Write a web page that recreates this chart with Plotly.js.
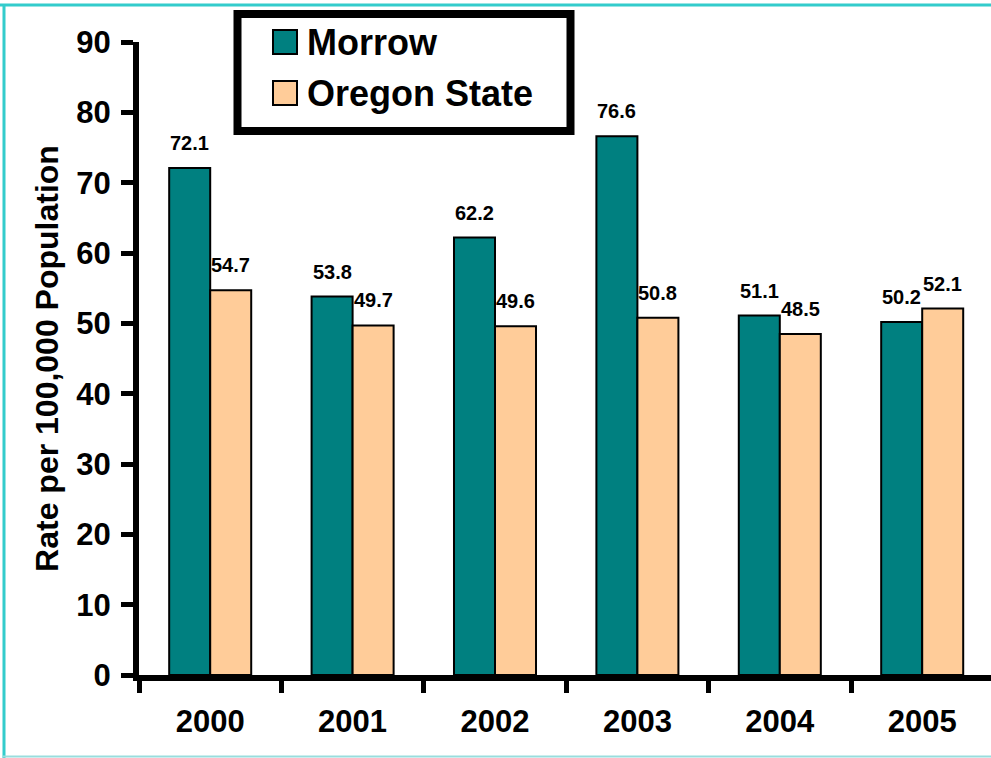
<!DOCTYPE html>
<html>
<head>
<meta charset="utf-8">
<script src="https://cdn.plot.ly/plotly-3.0.1.min.js"></script>
<style>
  html, body { margin: 0; padding: 0; background: #ffffff; }
  #chart { width: 991px; height: 758px; }
</style>
</head>
<body>
<div id="chart"></div>
<script>
// ---- data ----
const years = ['2000', '2001', '2002', '2003', '2004', '2005'];
const seriesNames = ['Morrow', 'Oregon State'];
const morrow = [72.1, 53.8, 62.2, 76.6, 51.1, 50.2];
const oregon = [54.7, 49.7, 49.6, 50.8, 48.5, 52.1];
const yTickVals = [0, 10, 20, 30, 40, 50, 60, 70, 80, 90];
const yTitle = 'Rate per 100,000 Population';

// ---- style ----
const W = 991, H = 758;
const M = { l: 139, r: 0, t: 42, b: 83 };
const FONT = 'Liberation Sans, Arial, Helvetica, sans-serif';
const colors = ['#008080', '#FFCC99'];
const bargap = 0.424;
const plotW = W - M.l - M.r, plotH = H - M.t - M.b;
const px = x => (x - M.l) / plotW;          // pixel -> paper x
const py = y => (H - M.b - y) / plotH;      // pixel -> paper y

const seriesVals = [morrow, oregon];

const traces = seriesVals.map((vals, i) => ({
  type: 'bar',
  name: seriesNames[i],
  x: years,
  y: vals,
  marker: { color: colors[i], line: { color: '#000000', width: 2 } },
  hoverinfo: 'x+y+name',
  showlegend: false
}));

// data labels above bars
const barOffset = (1 - bargap) / 4;
const annotations = [];
seriesVals.forEach((vals, i) => {
  vals.forEach((v, j) => {
    annotations.push({
      xref: 'x', yref: 'y',
      x: j + (i === 0 ? -barOffset : barOffset),
      y: v,
      text: v.toFixed(1),
      showarrow: false,
      xanchor: 'center', yanchor: 'middle',
      yshift: 25,
      font: { family: FONT, size: 20, color: '#000000', weight: 'bold' }
    });
  });
});

// custom legend (text)
const legendTextY = [42, 93];
seriesNames.forEach((n, i) => {
  annotations.push({
    xref: 'paper', yref: 'paper',
    x: px(305), y: py(legendTextY[i]),
    text: n, showarrow: false,
    xanchor: 'left', yanchor: 'middle',
    font: { family: FONT, size: 36, color: '#000000', weight: 'bold' }
  });
});

const shapes = [];
// frame border (cyan)
shapes.push({ type: 'line', xref: 'paper', yref: 'paper', x0: px(0), x1: px(W), y0: py(5), y1: py(5), line: { color: '#33CCCC', width: 3 } });
shapes.push({ type: 'line', xref: 'paper', yref: 'paper', x0: px(4), x1: px(4), y0: py(4), y1: py(H), line: { color: '#33CCCC', width: 3 } });
shapes.push({ type: 'line', xref: 'paper', yref: 'paper', x0: px(3), x1: px(W), y0: py(756.5), y1: py(756.5), line: { color: '#99DDDD', width: 2 } });
// legend box
shapes.push({ type: 'rect', xref: 'paper', yref: 'paper', x0: px(237.5), x1: px(570.5), y0: py(14), y1: py(131), line: { color: '#000000', width: 8 }, fillcolor: 'rgba(255,255,255,0)' });
// legend swatches
legendTextY.forEach((cy, i) => {
  shapes.push({ type: 'rect', xref: 'paper', yref: 'paper', x0: px(273), x1: px(297), y0: py(cy - 12), y1: py(cy + 12), line: { color: '#000000', width: 2 }, fillcolor: colors[i] });
});

const layout = {
  width: W, height: H,
  margin: { l: M.l, r: M.r, t: M.t, b: M.b, pad: 0 },
  paper_bgcolor: '#ffffff', plot_bgcolor: '#ffffff',
  barmode: 'group', bargap: bargap, bargroupgap: 0,
  showlegend: false,
  font: { family: FONT, color: '#000000' },
  xaxis: {
    type: 'category',
    range: [-0.5, -0.5 + plotW / 142.4],
    showline: true, linecolor: '#000000', linewidth: 6,
    ticks: 'outside', tickson: 'boundaries', ticklen: 12, tickwidth: 5, tickcolor: '#000000',
    tickfont: { family: FONT, size: 31, color: '#000000', weight: 'bold' },
    ticklabelstandoff: 14,
    showgrid: false, zeroline: false, automargin: false, fixedrange: true
  },
  yaxis: {
    range: [0, 90],
    tickvals: yTickVals,
    showline: true, linecolor: '#000000', linewidth: 6,
    ticks: 'outside', ticklen: 12, tickwidth: 5, tickcolor: '#000000',
    tickfont: { family: FONT, size: 31, color: '#000000', weight: 'bold' },
    ticklabelstandoff: 4,
    showgrid: false, zeroline: false, automargin: false, fixedrange: true,
    title: { text: yTitle, font: { family: FONT, size: 32, color: '#000000', weight: 'bold' }, standoff: 10 }
  },
  annotations: annotations,
  shapes: shapes
};

Plotly.newPlot('chart', traces, layout, { displayModeBar: false, staticPlot: true });
</script>
</body>
</html>
